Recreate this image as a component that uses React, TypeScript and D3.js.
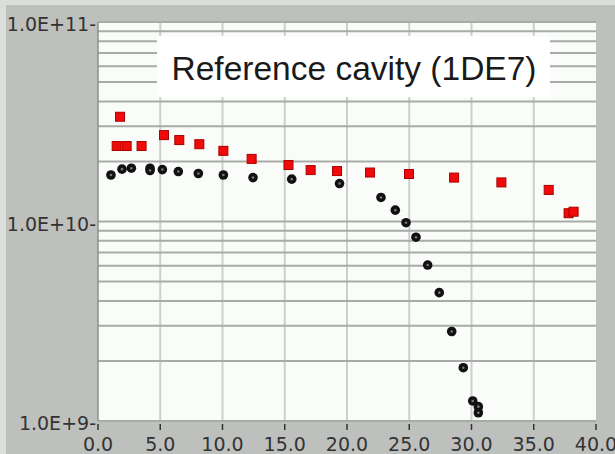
import React from "react";
import * as d3 from "d3";

// Measured intensity vs. position, two series on a log axis
const redX = [1.77, 1.5, 2.3, 3.5, 5.3, 6.53, 8.14, 10.07, 12.34, 15.3, 17.08, 19.2, 21.85, 24.98, 28.6, 32.4, 36.2, 37.8, 38.2];
const redY = [3.35e10, 2.39e10, 2.39e10, 2.39e10, 2.71e10, 2.56e10, 2.44e10, 2.26e10, 2.06e10, 1.92e10, 1.81e10, 1.79e10, 1.76e10, 1.73e10, 1.66e10, 1.57e10, 1.44e10, 1.10e10, 1.12e10];

const blackX = [1.04, 1.93, 2.68, 4.18, 4.18, 5.17, 6.45, 8.06, 10.07, 12.45, 15.56, 19.4, 22.73, 23.88, 24.74, 25.54, 26.48, 27.41, 28.41, 29.34, 30.1, 30.55, 30.55];
const blackY = [1.71e10, 1.83e10, 1.85e10, 1.85e10, 1.80e10, 1.82e10, 1.78e10, 1.74e10, 1.71e10, 1.66e10, 1.63e10, 1.55e10, 1.32e10, 1.14e10, 9.86e9, 8.34e9, 6.05e9, 4.40e9, 2.81e9, 1.85e9, 1.26e9, 1.18e9, 1.10e9];

const xTicks = [0, 5, 10, 15, 20, 25, 30, 35, 40];
const xTickLabels = ["0.0", "5.0", "10.0", "15.0", "20.0", "25.0", "30.0", "35.0", "40.0"];
const yTicks = [1e9, 1e10, 1e11];
const yTickLabels = ["1.0E+9-", "1.0E+10-", "1.0E+11-"];
const title = "Reference cavity (1DE7)";

const W = 615;
const H = 454;
const left = 98;
const right = 596;
const top = 22;
const bottom = 421;

export default function App() {
  const x = d3.scaleLinear().domain([0, 40]).range([left, right]);
  const y = d3.scaleLog().domain([1e9, 1e11]).range([bottom, top]);

  const minor: number[] = [];
  for (const dec of [1e9, 1e10]) {
    for (let k = 1; k <= 9; k++) minor.push(k * dec);
  }
  minor.push(1e11);

  const labelFont = "'DejaVu Sans', sans-serif";

  return (
    <svg
      width={W}
      height={H}
      style={{ position: "absolute", left: 0, top: 0, display: "block" }}
    >
      <rect x={0} y={0} width={W} height={H} fill="#dcdedc" />
      <rect x={6} y={5} width={W - 6} height={H - 5} fill="#bec0be" />
      <rect x={left} y={top} width={right - left} height={bottom - top} fill="#f9fcf9" />

      {/* vertical grid */}
      {xTicks.slice(1, -1).map((t) => (
        <line key={"v" + t} x1={x(t)} x2={x(t)} y1={top} y2={bottom} stroke="#cdcfcd" strokeWidth={2} />
      ))}
      {/* horizontal grid at every log minor step */}
      {minor.map((v) => (
        <line key={"h" + v} x1={left} x2={right} y1={y(v)} y2={y(v)} stroke="#a9aba9" strokeWidth={2} />
      ))}
      <line x1={left} x2={left} y1={top} y2={bottom} stroke="#8e908e" strokeWidth={1.5} />
      <line x1={left} x2={right} y1={top} y2={top} stroke="#a9aba9" strokeWidth={2} />

      {/* title panel */}
      <rect x={157} y={36} width={393} height={61} fill="#ffffff" />
      <text
        x={354}
        y={80}
        textAnchor="middle"
        fontFamily="'Liberation Sans', Arial, sans-serif"
        fontSize={33.5}
        fill="#1a1a1a"
      >
        {title}
      </text>

      {/* x ticks and labels */}
      {xTicks.map((t, i) => (
        <g key={"xt" + t}>
          <line x1={x(t)} x2={x(t)} y1={424} y2={430} stroke="#333" strokeWidth={1.5} />
          <text
            x={x(t)}
            y={451}
            textAnchor="middle"
            fontFamily={labelFont}
            fontSize={19}
            fill="#333"
          >
            {xTickLabels[i]}
          </text>
        </g>
      ))}

      {/* y labels */}
      {yTicks.map((t, i) => (
        <text
          key={"yt" + t}
          x={96}
          y={y(t) + 9}
          textAnchor="end"
          fontFamily={labelFont}
          fontSize={19}
          fill="#333"
        >
          {yTickLabels[i]}
        </text>
      ))}

      {/* red series */}
      {redX.map((v, i) => (
        <rect
          key={"r" + i}
          x={x(v) - 4.5}
          y={y(redY[i]) - 4.5}
          width={9}
          height={9}
          fill="#f00a0a"
          stroke="#a00"
          strokeWidth={1}
        />
      ))}

      {/* black series */}
      {blackX.map((v, i) => (
        <g key={"b" + i}>
          <circle cx={x(v)} cy={y(blackY[i])} r={4.8} fill="#111" />
          <circle cx={x(v)} cy={y(blackY[i])} r={1.3} fill="#777" />
        </g>
      ))}
    </svg>
  );
}
